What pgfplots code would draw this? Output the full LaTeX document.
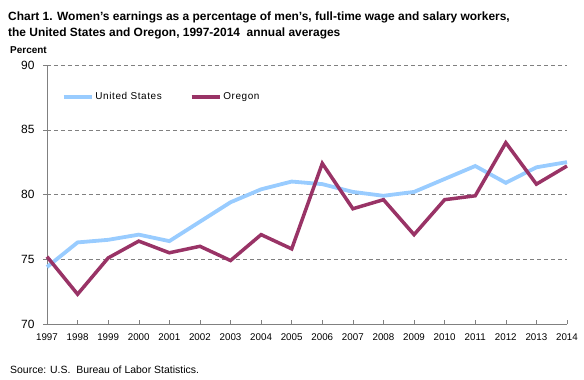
\documentclass[border=0pt]{standalone}
\usepackage{pgfplots}
\pgfplotsset{compat=1.18}
\usepackage{fontspec}
\setmainfont{Liberation Sans}
\definecolor{usblue}{HTML}{99CCFF}
\definecolor{ormaroon}{HTML}{993366}
\definecolor{gridgray}{HTML}{808080}
\begin{document}
\begin{tikzpicture}
\begin{axis}[
  at={(0,0)}, anchor=south west,
  scale only axis, width=520bp, height=259bp,
  xmin=1997, xmax=2014, ymin=70, ymax=90,
  xtick={1997,...,2014}, ytick={70,75,80,85,90},
  /pgf/number format/assume math mode=true,
  /pgf/number format/1000 sep={},
  axis x line=bottom, axis y line=left,
  axis line style={gridgray, -},
  x axis line style={-}, y axis line style={-},
  xtick style={gridgray, thin}, ytick style={gridgray, thin},
  major tick length=4bp,
  xtick align=inside, ytick align=outside,
  ymajorgrids, grid style={gridgray, dash pattern=on 4bp off 3bp, thin},
  xticklabel style={font=\fontsize{9.8}{11}\selectfont, yshift=-6bp},
  yticklabel style={font=\fontsize{12}{13}\selectfont, xshift=-5bp},
  clip=false,
  legend columns=2,
  legend style={draw=none, fill=none, at={(0.022,0.876)}, anchor=west,
    font=\fontsize{10}{12}\selectfont\addfontfeatures{LetterSpace=6},
    /tikz/every even column/.append style={column sep=26bp}},
  legend image code/.code={\draw[#1] (0bp,0bp) -- (28bp,0bp);},
]
\addplot[usblue, line width=3.8bp] coordinates {
(1997,74.4) (1998,76.3) (1999,76.5) (2000,76.9) (2001,76.4) (2002,77.9)
(2003,79.4) (2004,80.4) (2005,81.0) (2006,80.8) (2007,80.2) (2008,79.9)
(2009,80.2) (2010,81.2) (2011,82.2) (2012,80.9) (2013,82.1) (2014,82.5)};
\addlegendentry{United States}
\addplot[ormaroon, line width=3.5bp] coordinates {
(1997,75.2) (1998,72.3) (1999,75.1) (2000,76.4) (2001,75.5) (2002,76.0)
(2003,74.9) (2004,76.9) (2005,75.8) (2006,82.4) (2007,78.9) (2008,79.6)
(2009,76.9) (2010,79.6) (2011,79.9) (2012,84.0) (2013,80.8) (2014,82.2)};
\addlegendentry{Oregon}
\end{axis}
\path[use as bounding box] (-47bp,-56bp) rectangle (537bp,324bp);
\node[anchor=base west, inner sep=0pt, font=\bfseries\fontsize{12}{16}\selectfont] at (-39bp,303bp)
  {Chart 1. Women's earnings as a percentage of men's, full-time wage and salary workers,};
\node[anchor=base west, inner sep=0pt, font=\bfseries\fontsize{12}{16}\selectfont] at (-39bp,287bp)
  {the United States and Oregon, 1997-2014\ \ annual averages};
\node[anchor=base west, inner sep=0pt, font=\bfseries\fontsize{10}{12}\selectfont] at (-37bp,270bp) {Percent};
\node[anchor=base west, inner sep=0pt, font=\fontsize{10.5}{12}\selectfont] at (-37bp,-49bp) {Source: U.S.\ \ Bureau of Labor Statistics.};
\end{tikzpicture}
\end{document}
